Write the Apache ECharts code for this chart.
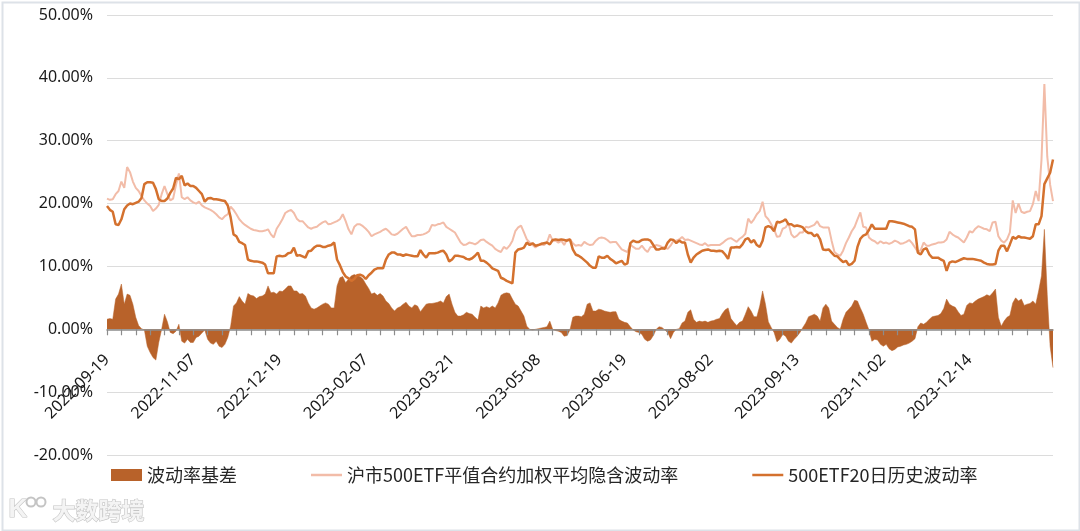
<!DOCTYPE html>
<html><head><meta charset="utf-8">
<script src="https://cdn.jsdelivr.net/npm/echarts@6/dist/echarts.min.js"></script>
<style>html,body{margin:0;padding:0;background:#fff}#c{width:1080px;height:531px}</style>
</head><body><div id="c"></div>
<script>
// Trading calendar (SSE): start date and exchange holidays
const startDate = '2022-09-19';
const pointCount = 330;
const tradingHolidays = ['2022-10-03','2022-10-04','2022-10-05','2022-10-06','2022-10-07',
  '2023-01-02','2023-01-23','2023-01-24','2023-01-25','2023-01-26','2023-01-27',
  '2023-04-05','2023-05-01','2023-05-02','2023-05-03','2023-06-22','2023-06-23',
  '2023-09-29','2023-10-02','2023-10-03','2023-10-04','2023-10-05','2023-10-06','2024-01-01'];
const categories = [];
(function(){
  let d = new Date(startDate + 'T00:00:00Z');
  while (categories.length < pointCount) {
    const s = d.toISOString().slice(0,10);
    const wd = d.getUTCDay();
    if (wd !== 0 && wd !== 6 && tradingHolidays.indexOf(s) < 0) categories.push(s);
    d = new Date(d.getTime() + 86400000);
  }
})();

const seriesNames = ['波动率基差', '沪市500ETF平值合约加权平均隐含波动率', '500ETF20日历史波动率'];

// Implied volatility (%)
const ivValues = [
20.8,20.6,20.7,21.5,22.0,23.5,22.5,25.8,25.0,23.5,
22.5,22.0,21.2,20.5,20.0,19.6,18.8,19.2,19.8,21.5,
22.8,21.5,20.5,20.8,23.0,24.8,21.0,20.7,21.0,20.5,
20.2,20.0,20.3,19.7,19.4,19.2,19.0,18.7,18.3,17.8,
17.5,18.0,18.3,19.5,19.0,18.3,17.5,17.0,16.6,16.3,
16.0,15.8,15.7,15.6,15.6,15.7,15.9,15.1,14.6,16.0,
16.7,17.5,18.5,18.8,19.0,18.5,17.6,17.2,17.2,16.7,
16.2,16.0,16.2,16.3,16.7,17.0,17.2,16.7,16.8,17.0,
17.2,17.5,18.3,17.2,15.9,15.1,16.3,16.7,16.7,16.4,
16.0,15.5,14.8,15.1,15.3,15.5,15.8,16.0,15.6,15.1,
15.0,15.2,15.6,16.0,16.3,15.5,14.8,14.8,15.0,15.0,
15.1,15.3,15.6,16.6,16.5,16.7,16.8,17.0,16.3,16.0,
15.7,15.4,14.6,13.8,13.4,13.5,13.8,13.7,13.5,13.8,
14.2,14.3,13.9,13.6,13.3,12.8,12.5,12.3,13.1,12.8,
13.3,14.1,15.6,16.2,16.5,15.4,14.3,13.8,13.4,13.0,
13.4,13.5,13.4,13.8,15.1,14.1,14.1,13.8,14.1,13.4,
14.3,14.3,13.7,13.3,13.4,13.3,13.9,13.6,13.4,13.5,
14.1,14.5,14.6,14.5,14.2,13.8,13.9,13.9,13.3,12.7,
12.5,12.3,13.5,13.1,12.8,12.8,13.3,12.7,12.3,13.1,
13.1,13.4,13.3,13.1,13.0,12.8,13.3,14.1,14.1,14.3,
14.7,14.2,14.3,14.1,13.9,13.7,13.5,13.4,13.7,13.3,
13.4,13.4,13.4,13.4,13.7,14.1,14.4,14.5,14.2,13.9,
14.4,14.7,15.2,17.6,16.9,17.5,18.3,18.8,20.3,18.0,
17.5,16.7,15.9,14.7,14.8,16.0,16.2,16.9,15.1,14.6,
14.9,15.4,15.4,16.3,16.2,16.4,16.6,17.2,16.4,16.2,
16.2,16.2,14.1,12.3,11.9,11.7,12.5,13.7,14.6,15.6,
16.3,17.5,18.6,16.3,16.2,14.6,14.2,14.0,13.6,14.0,
13.7,13.8,13.6,13.8,14.1,13.9,13.6,13.7,13.9,14.2,
13.7,13.0,12.3,12.6,13.8,13.3,13.3,13.5,13.6,13.8,
13.8,13.9,14.3,15.5,15.1,14.8,14.6,14.2,13.8,14.6,
15.6,15.4,16.0,16.4,16.2,16.0,15.9,15.6,17.0,17.1,
14.8,14.1,13.8,14.3,15.4,20.5,18.5,20.0,18.7,18.5,
18.7,18.8,19.9,22.0,20.4,27.0,39.0,27.5,23.0,20.4
];

// 20-day historical volatility (%)
const hvValues = [
19.6,19.0,18.7,16.7,16.6,17.5,19.1,19.7,20.0,19.9,
20.1,20.3,20.9,23.1,23.4,23.4,23.3,22.3,20.7,20.4,
20.4,20.8,21.7,22.4,24.1,23.9,24.4,22.9,23.2,22.8,
22.8,22.5,22.0,21.5,20.3,20.8,20.9,20.7,20.7,20.6,
20.5,20.4,19.7,17.8,15.1,14.8,13.9,13.7,13.4,11.1,
10.9,10.8,10.8,10.7,10.6,10.3,8.9,8.9,8.9,11.6,
11.7,11.6,11.7,12.1,12.2,13.0,11.7,11.8,11.6,11.4,
12.4,12.5,13.0,13.3,13.3,13.1,13.1,13.3,13.4,13.8,
11.1,10.2,9.1,8.4,8.1,7.7,8.0,8.6,8.7,8.5,
8.0,8.6,9.0,9.5,9.7,9.7,9.7,11.1,11.9,12.2,
12.2,11.9,11.9,11.7,11.9,11.8,11.7,11.6,11.6,12.6,
11.9,11.4,12.1,12.1,12.1,12.2,12.4,12.5,11.9,10.8,
11.1,11.7,11.7,11.6,11.5,11.2,11.1,11.3,11.7,12.2,
10.9,10.9,10.6,10.2,9.7,9.5,9.3,8.2,8.0,7.7,
7.5,7.3,12.2,12.7,12.8,13.0,13.8,13.4,13.7,13.3,
13.4,13.6,13.7,13.8,13.5,14.2,14.3,14.2,14.3,14.2,
14.1,14.3,12.7,11.9,11.7,11.4,11.0,10.6,10.1,9.8,
9.8,11.6,11.4,11.4,11.7,11.2,10.9,10.5,10.7,10.9,
10.3,10.5,13.7,14.1,13.9,13.9,14.2,14.3,14.3,14.1,
13.4,12.7,12.7,12.9,12.8,13.8,14.3,14.2,13.7,14.1,
13.8,13.8,11.9,10.6,11.4,11.9,12.2,12.5,12.6,12.7,
12.5,12.5,12.4,12.5,12.4,11.9,11.2,13.0,13.0,13.1,
13.0,13.5,14.3,14.5,13.8,14.2,13.4,13.1,14.1,16.2,
16.4,16.2,15.6,17.1,17.0,17.2,17.5,16.7,16.7,16.4,
16.5,16.4,16.2,15.6,15.3,15.3,14.8,15.1,14.3,12.7,
12.6,12.7,12.2,11.7,11.6,11.1,10.7,10.9,10.2,10.4,
10.9,13.1,14.4,14.9,15.1,15.8,16.7,16.0,16.0,16.0,
16.0,16.0,17.2,17.2,17.1,17.0,16.9,16.8,16.6,16.4,
16.3,15.9,12.2,11.9,12.7,12.9,11.9,11.4,11.4,11.4,
11.1,10.9,9.3,10.6,10.8,10.7,10.9,11.1,11.3,11.2,
11.2,11.2,11.1,11.0,10.9,10.6,10.4,10.3,10.3,10.4,
12.5,13.3,13.3,12.4,13.5,14.7,14.4,14.8,14.6,14.6,
14.5,14.4,14.8,16.7,16.7,18.0,23.1,24.0,24.9,27.0
];

// Volatility basis (%)
const basisValues = [
1.6,1.7,1.6,4.8,5.6,7.2,4.0,5.6,5.4,4.0,
1.9,0.6,0.1,-0.1,-2.7,-3.7,-4.5,-4.9,-2.1,0.0,
2.4,1.2,-0.5,-0.7,-0.3,0.8,-1.9,-2.2,-1.6,-2.1,
-2.1,-1.3,-1.1,-0.6,-0.1,-1.6,-2.2,-2.4,-1.9,-2.7,
-2.9,-2.4,-1.3,0.5,3.7,4.2,5.2,4.5,4.0,5.7,
5.4,5.3,4.9,5.2,5.3,5.6,6.9,5.8,5.9,5.6,
6.1,6.0,6.4,6.9,6.9,6.1,6.1,5.6,5.7,5.3,
4.2,3.4,3.2,3.4,3.7,4.0,4.2,4.0,3.4,3.4,
6.9,8.2,8.4,7.4,8.0,8.5,8.7,8.5,8.4,8.0,
7.2,6.5,5.6,5.8,5.4,5.7,5.3,4.5,4.1,3.4,
2.9,3.4,3.6,4.0,4.3,3.7,3.4,3.9,3.7,2.8,
3.4,4.0,4.1,4.1,4.2,4.3,4.5,4.2,5.2,5.6,
4.0,2.7,2.1,2.1,2.3,2.7,2.5,2.4,1.9,1.5,
3.7,3.4,3.6,3.4,3.7,3.4,4.2,5.4,5.7,5.8,
5.7,4.8,4.0,3.7,2.9,2.1,0.5,0.0,-0.1,0.0,
0.1,0.2,0.3,0.4,1.3,0.0,-0.2,-0.3,-0.5,-1.1,
-1.0,-0.1,1.9,2.1,2.1,2.0,2.4,4.0,4.2,2.9,
2.9,3.2,3.1,2.9,2.8,2.7,2.8,2.8,1.6,1.3,
1.1,1.0,0.4,-0.1,-0.4,-0.5,-0.8,-1.6,-1.9,-1.7,
-1.0,0.0,0.4,0.3,-0.1,-0.5,-1.5,-0.5,0.0,0.1,
1.0,1.3,2.7,3.1,1.6,1.1,1.3,1.2,1.3,1.1,
1.3,1.4,1.6,1.7,2.5,3.1,3.4,1.7,1.1,0.6,
1.1,1.3,2.4,3.6,2.9,2.0,2.0,3.7,6.1,4.0,
1.2,0.3,-0.5,-2.0,-1.6,-0.8,-1.1,-1.9,-2.2,-1.6,
-1.1,-0.5,0.3,1.0,2.0,2.2,2.4,2.1,1.3,3.4,
4.0,3.4,1.3,0.8,0.3,0.0,1.6,2.7,3.2,3.7,
4.6,4.5,3.4,2.4,1.1,-0.1,-1.9,-1.6,-1.7,-2.4,
-2.7,-2.4,-3.1,-3.4,-3.2,-2.8,-2.7,-2.5,-2.4,-2.2,
-1.9,-1.5,0.4,1.0,0.8,1.1,1.6,2.0,2.1,2.2,
2.5,3.3,4.8,4.0,3.7,3.5,2.8,2.2,2.4,3.8,
4.2,4.1,4.5,4.8,5.0,5.2,5.5,5.3,5.8,6.4,
1.9,0.5,1.3,1.9,2.2,4.2,5.0,4.5,4.8,3.8,
4.0,4.1,4.5,4.0,6.1,8.5,15.9,5.5,-2.7,-6.1
];

const yTicks = {min: -20, max: 50, interval: 10};

const gridTop = 15, gridBottomY = 455;
const zeroOffset = -(gridBottomY - (gridTop + (gridBottomY - gridTop) * yTicks.max / (yTicks.max - yTicks.min)));

const chart = echarts.init(document.getElementById('c'), null, {renderer: 'canvas'});
const baseFont = "'Noto Sans', 'Noto Sans CJK SC', sans-serif";
const lineIcon = 'path://M0,0 L62,0 L62,5 L0,5 Z';
chart.setOption({
  animation: false,
  backgroundColor: '#ffffff',
  grid: {left: 107, right: 27, top: gridTop, bottom: 531 - gridBottomY, containLabel: false},
  legend: {
    left: 106, top: 461, itemGap: 74, itemWidth: 31, itemHeight: 12,
    textStyle: {fontSize: 18, color: '#262626', fontFamily: "'Noto Sans CJK SC', sans-serif"},
    data: [
      {name: seriesNames[0], icon: 'rect'},
      {name: seriesNames[1], icon: lineIcon},
      {name: seriesNames[2], icon: lineIcon}
    ]
  },
  xAxis: {
    type: 'category', data: categories, boundaryGap: false,
    position: 'bottom', offset: zeroOffset, z: 10,
    axisLine: {onZero: false, lineStyle: {color: '#8c8c8c', width: 1.5}},
    axisTick: {show: true, interval: 4, length: 6, lineStyle: {color: '#8c8c8c', width: 1.2}},
    axisLabel: {interval: 29, rotate: 45, margin: 28, fontSize: 16, color: '#1a1a1a', fontFamily: baseFont},
    splitLine: {show: false}
  },
  yAxis: {
    type: 'value', min: yTicks.min, max: yTicks.max, interval: yTicks.interval,
    axisLine: {show: false}, axisTick: {show: false},
    axisLabel: {margin: 14, fontSize: 16, color: '#1a1a1a', fontFamily: baseFont,
      formatter: v => v.toFixed(2) + '%'},
    splitLine: {lineStyle: {color: '#dcdcdc', width: 1}}
  },
  series: [
    {name: seriesNames[0], type: 'line', data: basisValues, symbol: 'none',
      itemStyle: {color: '#b8622a'}, lineStyle: {width: 0.5, color: '#b8622a'},
      areaStyle: {color: '#b8622a', opacity: 1}, z: 1},
    {name: seriesNames[1], type: 'line', data: ivValues, symbol: 'none',
      itemStyle: {color: '#f2bca8'}, lineStyle: {width: 2, color: '#f2bca8'}, z: 2},
    {name: seriesNames[2], type: 'line', data: hvValues, symbol: 'none',
      itemStyle: {color: '#d4712e'}, lineStyle: {width: 2.5, color: '#d4712e'}, z: 3}
  ],
  graphic: [
    {type: 'rect', left: 0, top: 0, shape: {x: 1, y: 1, width: 1077, height: 528},
      style: {fill: 'none', stroke: '#dde2e8', lineWidth: 2}, silent: true, z: 100},
    {type: 'text', left: 8, top: 496, style: {text: 'K', font: 'bold 26px sans-serif',
      fill: '#f4f4f4', stroke: '#c4c4c4', lineWidth: 1.2}, z: 100},
    {type: 'circle', shape: {cx: 31, cy: 502, r: 4.5}, style: {fill: 'none', stroke: '#c4c4c4', lineWidth: 2}, z: 100},
    {type: 'circle', shape: {cx: 41, cy: 502, r: 4.5}, style: {fill: 'none', stroke: '#c4c4c4', lineWidth: 2}, z: 100},
    {type: 'text', left: 52, top: 498, style: {text: '大数跨境', font: "bold 23px 'Noto Sans CJK SC', sans-serif",
      fill: '#f4f4f4', stroke: '#c4c4c4', lineWidth: 1.2}, z: 100}
  ]
});
</script></body></html>
